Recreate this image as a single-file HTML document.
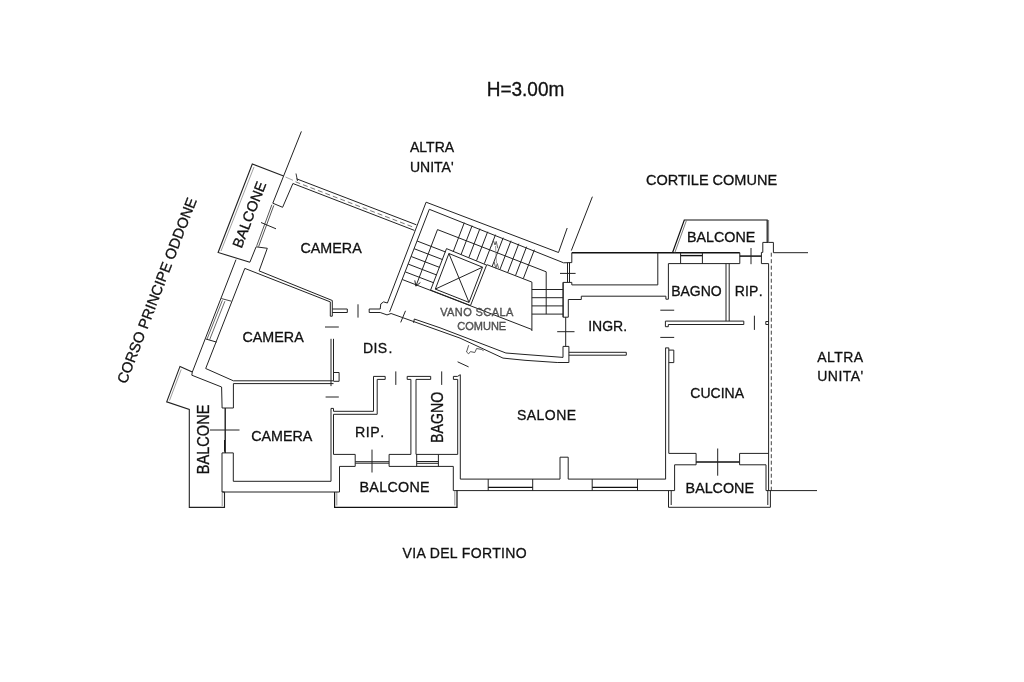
<!DOCTYPE html>
<html><head><meta charset="utf-8"><style>
html,body{margin:0;padding:0;background:#fff;width:1024px;height:682px;overflow:hidden}
svg{display:block;will-change:transform}
text{font-family:"Liberation Sans",sans-serif;stroke:#111;stroke-width:0.3px}
</style></head><body>
<svg width="1024" height="682" viewBox="0 0 1024 682">
<rect width="1024" height="682" fill="#fff"/>
<polyline points="571.8,252.7 739.8,252.7" fill="none" stroke="#111" stroke-width="1.6"/>
<polyline points="657.8,252.7 657.8,284.9 571.8,284.9" fill="none" stroke="#222" stroke-width="1.0"/>
<polyline points="571.8,252.7 571.8,262.6" fill="none" stroke="#222" stroke-width="1.0"/>
<polyline points="563.6,262.8 571.8,262.6" fill="none" stroke="#222" stroke-width="1.0"/>
<polyline points="567.5,262.6 567.5,282.4" fill="none" stroke="#222" stroke-width="1.0"/>
<polyline points="569.5,262.6 569.5,282.4" fill="none" stroke="#222" stroke-width="1.0"/>
<polyline points="560.0,273.4 575.6,273.4" fill="none" stroke="#222" stroke-width="1.0"/>
<polyline points="563.1,282.4 571.8,282.4 571.8,284.9" fill="none" stroke="#222" stroke-width="1.0"/>
<polyline points="563.1,282.4 563.1,317.2 568.3,317.2 568.3,299.5 581.3,299.5 581.3,296.2 665.9,296.2 665.9,299.2 668.4,299.2 668.4,263.6 739.8,263.6 739.8,252.7" fill="none" stroke="#222" stroke-width="1.0"/>
<polyline points="680.6,252.7 680.6,263.6" fill="none" stroke="#222" stroke-width="1.0"/>
<polyline points="702.4,252.7 702.4,263.6" fill="none" stroke="#222" stroke-width="1.0"/>
<polyline points="680.6,255.6 702.4,255.6" fill="none" stroke="#111" stroke-width="1.4"/>
<polyline points="726.0,263.6 726.0,321.1" fill="none" stroke="#222" stroke-width="1.0"/>
<polyline points="729.2,263.6 729.2,321.1" fill="none" stroke="#222" stroke-width="1.0"/>
<polyline points="665.4,321.1 743.8,321.1 743.8,324.5 668.3,324.5 668.3,326.7 665.4,326.7 665.4,321.1" fill="none" stroke="#222" stroke-width="1.0"/>
<polyline points="660.3,310.2 674.2,310.2" fill="none" stroke="#222" stroke-width="1.0"/>
<polyline points="660.3,337.4 674.2,337.4" fill="none" stroke="#222" stroke-width="1.0"/>
<polyline points="754.4,315.7 754.4,329.9" fill="none" stroke="#222" stroke-width="1.0"/>
<polyline points="739.8,256.1 761.4,256.1" fill="none" stroke="#111" stroke-width="1.5"/>
<polyline points="751.0,248.0 751.0,264.2" fill="none" stroke="#222" stroke-width="1.0"/>
<polyline points="768.6,263.6 761.4,263.6 761.4,252.4 762.8,252.4 762.8,242.4 773.4,242.4 773.4,252.7 808.0,252.7" fill="none" stroke="#222" stroke-width="1.0"/>
<polyline points="768.6,263.6 768.6,490.6" fill="none" stroke="#222" stroke-width="1.0"/>
<polyline points="771.3,252.7 771.3,490.6" fill="none" stroke="#444" stroke-width="1.0" stroke-dasharray="4,2.5"/>
<polyline points="765.8,321.5 768.6,321.5" fill="none" stroke="#222" stroke-width="1.0"/>
<polyline points="765.8,324.5 768.6,324.5" fill="none" stroke="#222" stroke-width="1.0"/>
<polyline points="765.8,321.5 765.8,324.5" fill="none" stroke="#222" stroke-width="1.0"/>
<polyline points="672.5,252.7 684.3,220.0 767.2,220.0 767.2,242.4" fill="none" stroke="#111" stroke-width="1.2"/>
<polyline points="674.8,252.7 686.4,220.6" fill="none" stroke="#555" stroke-width="0.8"/>
<polyline points="768.6,220.0 768.6,242.4" fill="none" stroke="#777" stroke-width="1.0"/>
<polyline points="665.4,347.9 668.8,347.9 668.8,453.4 696.1,453.4 696.1,464.8 674.6,464.8 674.6,490.6" fill="none" stroke="#222" stroke-width="1.0"/>
<polyline points="668.8,350.1 673.8,350.1 673.8,362.6 668.8,362.6" fill="none" stroke="#222" stroke-width="1.0"/>
<polyline points="665.6,347.9 665.6,479.2" fill="none" stroke="#222" stroke-width="1.0"/>
<polyline points="696.1,462.0 739.6,462.0" fill="none" stroke="#111" stroke-width="1.3"/>
<polyline points="768.6,453.4 739.6,453.4 739.6,464.8 766.0,464.8 766.0,490.6" fill="none" stroke="#222" stroke-width="1.0"/>
<polyline points="717.7,448.5 717.7,475.7" fill="none" stroke="#222" stroke-width="1.0"/>
<polyline points="766.0,490.6 817.0,490.6" fill="none" stroke="#222" stroke-width="1.0"/>
<polyline points="668.5,490.6 668.5,507.3 770.4,507.3 770.4,490.6" fill="none" stroke="#222" stroke-width="1.0"/>
<polyline points="671.2,490.6 671.2,505.0" fill="none" stroke="#222" stroke-width="1.0"/>
<polyline points="767.8,490.6 767.8,505.0" fill="none" stroke="#222" stroke-width="1.0"/>
<polyline points="568.9,352.3 626.3,352.3" fill="none" stroke="#222" stroke-width="1.0"/>
<polyline points="568.9,355.2 626.3,355.2" fill="none" stroke="#222" stroke-width="1.0"/>
<polyline points="626.3,352.3 626.3,355.2" fill="none" stroke="#222" stroke-width="1.0"/>
<polyline points="565.7,317.2 565.7,346.4" fill="none" stroke="#222" stroke-width="1.0"/>
<polyline points="557.2,331.7 574.5,331.7" fill="none" stroke="#222" stroke-width="1.0"/>
<polyline points="563.0,357.4 563.0,346.4 568.9,346.4 568.9,362.5 557.2,362.5" fill="none" stroke="#222" stroke-width="1.0"/>
<polyline points="460.3,374.7 460.3,479.1 560.0,479.1 560.0,457.2 568.2,457.2 568.2,479.1 665.6,479.1" fill="none" stroke="#222" stroke-width="1.0"/>
<polyline points="457.7,379.4 457.7,454.4" fill="none" stroke="#222" stroke-width="1.0"/>
<polyline points="453.4,376.4 457.5,376.4 460.3,374.7" fill="none" stroke="#222" stroke-width="1.0"/>
<polyline points="453.4,376.4 453.4,379.4 457.7,379.4" fill="none" stroke="#222" stroke-width="1.0"/>
<polyline points="453.3,466.4 453.3,490.6" fill="none" stroke="#222" stroke-width="1.0"/>
<polyline points="453.3,490.6 674.6,490.6" fill="none" stroke="#222" stroke-width="1.0"/>
<polyline points="488.2,479.1 488.2,490.6" fill="none" stroke="#222" stroke-width="1.0"/>
<polyline points="532.7,479.1 532.7,490.6" fill="none" stroke="#222" stroke-width="1.0"/>
<polyline points="488.2,487.4 532.7,487.4" fill="none" stroke="#111" stroke-width="1.3"/>
<polyline points="592.2,479.1 592.2,490.6" fill="none" stroke="#222" stroke-width="1.0"/>
<polyline points="637.5,479.1 637.5,490.6" fill="none" stroke="#222" stroke-width="1.0"/>
<polyline points="592.2,487.4 637.5,487.4" fill="none" stroke="#111" stroke-width="1.3"/>
<polyline points="331.0,408.4 333.5,408.4 333.5,411.3 373.5,411.3 373.5,376.4 385.2,376.4 385.2,379.4 377.2,379.4 377.2,414.3 333.5,414.3 333.5,454.4 355.2,454.4 355.2,466.4 339.5,466.4 339.5,492.0" fill="none" stroke="#222" stroke-width="1.0"/>
<polyline points="331.0,408.4 331.0,481.3" fill="none" stroke="#222" stroke-width="1.0"/>
<polyline points="395.8,371.4 395.8,384.9" fill="none" stroke="#222" stroke-width="1.0"/>
<polyline points="410.9,454.4 410.9,379.4 407.2,379.4 407.2,376.4 430.7,376.4 430.7,379.4 416.0,379.4 416.0,454.4 457.7,454.4" fill="none" stroke="#222" stroke-width="1.0"/>
<polyline points="441.7,371.4 441.7,384.9" fill="none" stroke="#222" stroke-width="1.0"/>
<polyline points="355.2,461.7 389.1,461.7" fill="none" stroke="#222" stroke-width="1.0"/>
<polyline points="355.2,463.2 389.1,463.2" fill="none" stroke="#222" stroke-width="1.0"/>
<polyline points="410.9,454.4 389.1,454.4 389.1,466.4 453.3,466.4" fill="none" stroke="#222" stroke-width="1.0"/>
<polyline points="372.0,449.6 372.0,472.5" fill="none" stroke="#222" stroke-width="1.0"/>
<polyline points="416.7,454.4 416.7,466.4" fill="none" stroke="#222" stroke-width="1.0"/>
<polyline points="438.4,454.4 438.4,466.4" fill="none" stroke="#222" stroke-width="1.0"/>
<polyline points="416.7,461.5 438.4,461.5" fill="none" stroke="#222" stroke-width="1.0"/>
<polyline points="416.7,463.3 438.4,463.3" fill="none" stroke="#222" stroke-width="1.0"/>
<polyline points="334.6,492.0 334.6,507.4 457.0,507.4 457.0,490.6" fill="none" stroke="#111" stroke-width="1.2"/>
<polyline points="336.8,492.0 336.8,505.5" fill="none" stroke="#777" stroke-width="0.8"/>
<polyline points="454.8,490.6 454.8,505.5" fill="none" stroke="#777" stroke-width="0.8"/>
<polyline points="233.3,452.9 233.3,481.3 331.0,481.3" fill="none" stroke="#222" stroke-width="1.0"/>
<polyline points="224.5,440.0 224.5,451.7" fill="none" stroke="#222" stroke-width="1.0"/>
<polyline points="224.5,492.0 222.0,492.0 222.0,452.9 233.3,452.9" fill="none" stroke="#222" stroke-width="1.0"/>
<polyline points="222.0,492.0 339.5,492.0" fill="none" stroke="#222" stroke-width="1.0"/>
<polyline points="225.2,408.0 225.2,452.9" fill="none" stroke="#111" stroke-width="1.3"/>
<polyline points="210.0,430.0 239.5,430.0" fill="none" stroke="#222" stroke-width="1.0"/>
<polyline points="192.3,372.1 180.0,366.4 166.7,401.8 189.3,409.5 189.3,507.4 224.5,507.4 224.5,492.0" fill="none" stroke="#222" stroke-width="1.1"/>
<polyline points="181.2,369.5 169.5,400.5" fill="none" stroke="#888" stroke-width="0.8"/>
<polyline points="222.2,492.0 222.2,506.0" fill="none" stroke="#777" stroke-width="0.8"/>
<polyline points="236.0,259.6 192.3,372.1 191.8,375.2 221.6,387.0 222.1,408.0 233.4,408.0 233.4,383.6 333.5,383.6" fill="none" stroke="#222" stroke-width="1.0"/>
<polyline points="244.8,268.4 205.7,368.5 233.4,380.8 333.5,380.8" fill="none" stroke="#222" stroke-width="1.0"/>
<polyline points="221.2,298.5 231.4,301.2" fill="none" stroke="#444" stroke-width="1.0"/>
<polyline points="205.8,339.0 216.6,342.1" fill="none" stroke="#222" stroke-width="1.0"/>
<polyline points="222.4,300.3 207.0,339.2" fill="none" stroke="#555" stroke-width="0.9"/>
<polyline points="224.9,301.2 209.5,340.0" fill="none" stroke="#555" stroke-width="0.9"/>
<polyline points="259.1,270.9 332.3,300.5" fill="none" stroke="#222" stroke-width="1.0"/>
<polyline points="244.8,268.4 330.3,301.9" fill="none" stroke="#222" stroke-width="1.0"/>
<polyline points="332.3,300.5 332.3,316.2 330.3,316.2 330.3,301.9" fill="none" stroke="#222" stroke-width="1.0"/>
<polyline points="332.3,309.0 347.3,309.0 347.3,312.5 332.3,312.5" fill="none" stroke="#222" stroke-width="1.0"/>
<polyline points="358.0,304.3 358.0,317.6" fill="none" stroke="#222" stroke-width="1.0"/>
<polyline points="380.2,309.0 369.2,309.0 369.2,312.5 380.2,312.5" fill="none" stroke="#222" stroke-width="1.0"/>
<polyline points="325.0,327.0 338.8,327.0" fill="none" stroke="#222" stroke-width="1.0"/>
<polyline points="331.0,338.8 331.0,386.1" fill="none" stroke="#222" stroke-width="1.0"/>
<polyline points="333.5,338.8 333.5,380.8" fill="none" stroke="#222" stroke-width="1.0"/>
<polyline points="333.5,372.5 339.1,372.5 339.1,381.3 333.5,381.3" fill="none" stroke="#222" stroke-width="1.0"/>
<polyline points="325.6,397.0 338.8,397.0" fill="none" stroke="#222" stroke-width="1.0"/>
<polyline points="301.4,131.4 283.6,176.0" fill="none" stroke="#222" stroke-width="1.0"/>
<polyline points="283.6,176.0 252.3,164.0 218.1,252.5 249.9,262.2" fill="none" stroke="#222" stroke-width="1.1"/>
<polyline points="254.0,167.0 221.0,251.0" fill="none" stroke="#888" stroke-width="0.8"/>
<polyline points="283.6,176.0 272.8,203.2 282.6,207.3 292.9,183.5" fill="none" stroke="#222" stroke-width="1.0"/>
<polyline points="273.8,205.4 258.6,246.6" fill="none" stroke="#555" stroke-width="1.0"/>
<polyline points="271.9,204.7 256.7,245.9" fill="none" stroke="#555" stroke-width="1.0"/>
<polyline points="261.0,222.5 276.0,228.8" fill="none" stroke="#222" stroke-width="1.0"/>
<polyline points="249.9,262.2 256.1,246.8 267.3,248.3 259.1,270.9" fill="none" stroke="#222" stroke-width="1.0"/>
<polyline points="296.0,173.5 297.5,181.0" fill="none" stroke="#222" stroke-width="0.9"/>
<polyline points="296.5,178.8 416.4,224.8" fill="none" stroke="#222" stroke-width="1.0"/>
<polyline points="285.5,177.0 293.0,180.3" fill="none" stroke="#999" stroke-width="0.9"/>
<polyline points="292.9,183.5 414.4,230.4" fill="none" stroke="#222" stroke-width="1.0"/>
<polyline points="295.5,181.8 415.0,227.8" fill="none" stroke="#666" stroke-width="0.9" stroke-dasharray="5,3"/>
<polyline points="387.4,303.0 426.1,202.2 558.5,252.5" fill="none" stroke="#222" stroke-width="1.0"/>
<polyline points="558.5,252.5 567.2,228.0" fill="none" stroke="#222" stroke-width="1.0"/>
<polyline points="571.3,250.6 592.4,196.7" fill="none" stroke="#222" stroke-width="1.0"/>
<polyline points="389.6,311.9 429.3,209.3 563.6,262.8" fill="none" stroke="#222" stroke-width="1.0"/>
<polyline points="387.4,303.0 383.6,301.9 380.8,303.9 380.2,309.0" fill="none" stroke="#222" stroke-width="1.0"/>
<polyline points="415.9,286.1 437.5,229.6 546.2,271.8 546.2,314.1" fill="none" stroke="#222" stroke-width="1.0"/>
<polyline points="414.8,280.4 415.9,286.1 420.4,282.5" fill="none" stroke="#222" stroke-width="1.0"/>
<polygon points="446.5,248.6 486.6,265.1 470.5,305.5 430.6,290.1" fill="none" stroke="#222" stroke-width="1.0"/>
<polygon points="448.9,253.5 482.5,267.2 469.0,302.4 435.3,289.1" fill="none" stroke="#222" stroke-width="1.0"/>
<polyline points="448.9,253.5 469.0,302.4" fill="none" stroke="#222" stroke-width="1.0"/>
<polyline points="482.5,267.2 435.3,289.1" fill="none" stroke="#222" stroke-width="1.0"/>
<polyline points="486.8,264.6 531.9,282.1 531.9,331.0" fill="none" stroke="#222" stroke-width="1.0"/>
<polyline points="417.1,241.0 445.6,252.0" fill="none" stroke="#222" stroke-width="1.0"/>
<polyline points="414.1,248.7 442.6,259.6" fill="none" stroke="#222" stroke-width="1.0"/>
<polyline points="411.2,256.5 439.6,267.4" fill="none" stroke="#222" stroke-width="1.0"/>
<polyline points="408.2,264.1 436.7,275.0" fill="none" stroke="#222" stroke-width="1.0"/>
<polyline points="405.3,271.9 433.7,282.8" fill="none" stroke="#222" stroke-width="1.0"/>
<polyline points="402.3,279.5 531.9,329.5" fill="none" stroke="#222" stroke-width="1.0"/>
<polyline points="464.3,222.7 453.2,251.7" fill="none" stroke="#222" stroke-width="1.0"/>
<polyline points="472.1,225.7 461.0,254.7" fill="none" stroke="#222" stroke-width="1.0"/>
<polyline points="479.9,228.7 468.8,257.7" fill="none" stroke="#222" stroke-width="1.0"/>
<polyline points="487.7,231.7 476.5,260.7" fill="none" stroke="#222" stroke-width="1.0"/>
<polyline points="495.5,234.7 484.3,263.7" fill="none" stroke="#222" stroke-width="1.0"/>
<polyline points="503.2,237.7 492.1,266.6" fill="none" stroke="#222" stroke-width="1.0"/>
<polyline points="511.0,240.7 499.9,269.6" fill="none" stroke="#222" stroke-width="1.0"/>
<polyline points="518.8,243.7 507.7,272.6" fill="none" stroke="#222" stroke-width="1.0"/>
<polyline points="526.6,246.7 515.5,275.6" fill="none" stroke="#222" stroke-width="1.0"/>
<polyline points="534.4,249.7 523.3,278.6" fill="none" stroke="#222" stroke-width="1.0"/>
<polyline points="531.9,289.5 563.0,289.5" fill="none" stroke="#222" stroke-width="1.0"/>
<polyline points="531.9,297.7 563.0,297.7" fill="none" stroke="#222" stroke-width="1.0"/>
<polyline points="531.9,305.9 563.0,305.9" fill="none" stroke="#222" stroke-width="1.0"/>
<polyline points="531.9,314.1 563.0,314.1" fill="none" stroke="#222" stroke-width="1.0"/>
<polyline points="563.1,282.4 563.1,317.2" fill="none" stroke="#222" stroke-width="1.0"/>
<polyline points="491.4,246.6 493.4,240.6 495.0,245.0 496.2,241.4 497.8,248.2" fill="none" stroke="#555" stroke-width="0.9"/>
<polyline points="495.5,246.0 496.5,263.0" fill="none" stroke="#888" stroke-width="0.8"/>
<polyline points="494.2,262.0 495.8,268.4 497.3,263.5 498.6,268.4" fill="none" stroke="#555" stroke-width="0.9"/>
<polyline points="380.2,312.5 387.0,314.9 391.1,313.5 460.0,338.1 503.0,358.1 525.0,360.3 557.2,362.5" fill="none" stroke="#222" stroke-width="1.0"/>
<polyline points="414.3,319.0 440.0,327.8 505.9,353.0 525.0,354.5 563.0,357.4" fill="none" stroke="#222" stroke-width="1.0"/>
<polyline points="405.5,310.8 400.7,322.4" fill="none" stroke="#222" stroke-width="1.0"/>
<polyline points="457.6,361.8 468.6,366.9" fill="none" stroke="#222" stroke-width="1.0"/>
<polyline points="468.7,345.2 466.5,352.0 468.7,353.8 470.4,351.6 474.8,352.5 476.6,348.5 481.4,349.4 483.6,350.7" fill="none" stroke="#444" stroke-width="0.9"/>
<polyline points="414.3,319.0 413.6,322.8" fill="none" stroke="#222" stroke-width="1.0"/>
<text x="0" y="0" font-size="19" fill="#111" text-anchor="start" transform="translate(486.7 95.6) scale(1 1.09)">H=3.00m</text>
<text x="410" y="152.3" font-size="14" fill="#111" text-anchor="start">ALTRA</text>
<text x="410" y="172.2" font-size="14" fill="#111" text-anchor="start">UNITA'</text>
<text x="646" y="185" font-size="14.5" fill="#111" text-anchor="start">CORTILE COMUNE</text>
<text x="402.5" y="558.1" font-size="14" fill="#111" text-anchor="start" letter-spacing="0.37">VIA DEL FORTINO</text>
<text x="817.3" y="361.7" font-size="14" fill="#111" text-anchor="start" letter-spacing="0.45">ALTRA</text>
<text x="817.3" y="381.4" font-size="14" fill="#111" text-anchor="start" letter-spacing="0.45">UNITA'</text>
<text x="300.5" y="252.8" font-size="14.3" fill="#111" text-anchor="start">CAMERA</text>
<text x="242.5" y="341.6" font-size="14.3" fill="#111" text-anchor="start">CAMERA</text>
<text x="363" y="352.9" font-size="14" fill="#111" text-anchor="start" letter-spacing="0.35">DIS<tspan dx="1.2">.</tspan></text>
<text x="251.2" y="441.1" font-size="14.3" fill="#111" text-anchor="start">CAMERA</text>
<text x="355" y="436.9" font-size="14.2" fill="#111" text-anchor="start" letter-spacing="0.5">RIP<tspan dx="1.9">.</tspan></text>
<text x="359.5" y="492.3" font-size="14.3" fill="#111" text-anchor="start" letter-spacing="0.3">BALCONE</text>
<text x="517" y="419.9" font-size="14" fill="#111" text-anchor="start" letter-spacing="0.45">SALONE</text>
<text x="0" y="0" font-size="14.2" fill="#111" text-anchor="start" transform="translate(442.8 442.9) rotate(-90) scale(1 1.12)">BAGNO</text>
<text x="671.2" y="296" font-size="14" fill="#111" text-anchor="start">BAGNO</text>
<text x="734.7" y="296" font-size="14" fill="#111" text-anchor="start" letter-spacing="0.2">RIP<tspan dx="2">.</tspan></text>
<text x="588.2" y="330.8" font-size="14" fill="#111" text-anchor="start">INGR.</text>
<text x="690.3" y="397.6" font-size="14" fill="#111" text-anchor="start">CUCINA</text>
<text x="687" y="242" font-size="14.3" fill="#111" text-anchor="start">BALCONE</text>
<text x="685.6" y="493.4" font-size="14.3" fill="#111" text-anchor="start">BALCONE</text>
<text x="440.2" y="316" font-size="11" fill="#777" stroke="none" text-anchor="start" letter-spacing="0.4">VANO SCALA</text>
<text x="457.3" y="330.2" font-size="11" fill="#777" stroke="none" text-anchor="start">COMUNE</text>
<text x="0" y="0" font-size="14.6" fill="#111" text-anchor="start" transform="translate(209.3 474.3) rotate(-90) scale(1 1.1)">BALCONE</text>
<text x="0" y="0" font-size="14.6" fill="#111" text-anchor="start" transform="translate(249.1 214.5) rotate(-69) translate(-34.9 5.2)">BALCONE</text>
<text x="0" y="0" font-size="14.8" fill="#111" text-anchor="start" transform="translate(156.3 291.5) rotate(-69) translate(-97.5 5.2)">CORSO PRINCIPE ODDONE</text>
</svg></body></html>
